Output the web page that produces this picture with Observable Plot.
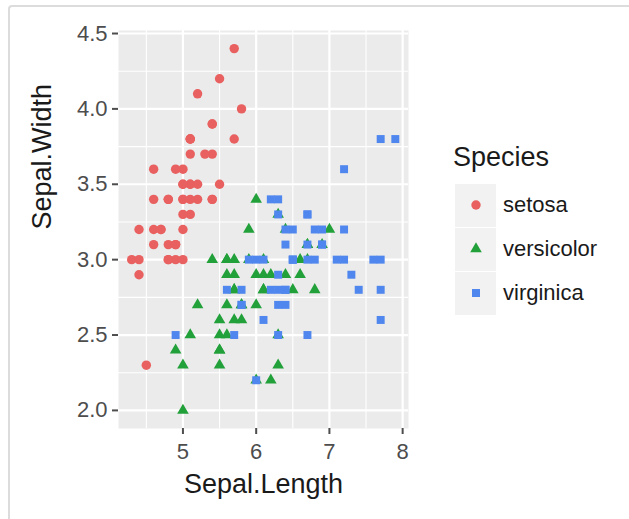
<!DOCTYPE html>
<html>
<head>
<meta charset="utf-8">
<script src="https://cdn.jsdelivr.net/npm/d3@7"></script>
<script src="https://cdn.jsdelivr.net/npm/@observablehq/plot@0.6"></script>
<style>
  html, body { margin: 0; padding: 0; background: #fff; }
  body { width: 629px; height: 519px; position: relative; overflow: hidden;
         font-family: "Liberation Sans", Arial, Helvetica, sans-serif; }
  #card { position: absolute; left: 8px; top: 5px; width: 700px; height: 600px;
          border-top: 2px solid #dcdcdc; border-left: 2px solid #dcdcdc;
          border-top-left-radius: 4px; box-sizing: border-box; }
  #chart { position: absolute; left: 0; top: 0; }
  #legend { position: absolute; left: 453px; top: 141px; }
  #legend .ltitle { font-size: 27px; line-height: 32px; height: 32px; color: #1a1a1a; margin-bottom: 10px; }
  #legend .row { display: flex; align-items: center; height: 44px; }
  #legend .key { width: 41px; height: 43px; background: #F2F2F2; border: 1px solid #fff;
                 box-sizing: content-box; margin-left: 1px; display: flex; align-items: center; justify-content: center; }
  #legend .lab { font-size: 22px; color: #1a1a1a; margin-left: 6px; }
</style>
</head>
<body>
<div id="card"></div>
<div id="chart"></div>
<div id="legend"></div>
<script>
// Edgar Anderson's iris measurements: sepal length and width per species
const speciesNames = ["setosa", "versicolor", "virginica"];
const speciesColors = ["#E8605F", "#22A03A", "#5087EE"];
const speciesSymbols = ["circle", "triangle", "square"];

const setosaLength = [5.1,4.9,4.7,4.6,5.0,5.4,4.6,5.0,4.4,4.9,5.4,4.8,4.8,4.3,5.8,5.7,5.4,5.1,5.7,5.1,5.4,5.1,4.6,5.1,4.8,5.0,5.0,5.2,5.2,4.7,4.8,5.4,5.2,5.5,4.9,5.0,5.5,4.9,4.4,5.1,5.0,4.5,4.4,5.0,5.1,4.8,5.1,4.6,5.3,5.0];
const setosaWidth  = [3.5,3.0,3.2,3.1,3.6,3.9,3.4,3.4,2.9,3.1,3.7,3.4,3.0,3.0,4.0,4.4,3.9,3.5,3.8,3.8,3.4,3.7,3.6,3.3,3.4,3.0,3.4,3.5,3.4,3.2,3.1,3.4,4.1,4.2,3.1,3.2,3.5,3.6,3.0,3.4,3.5,2.3,3.2,3.5,3.8,3.0,3.8,3.2,3.7,3.3];

const versicolorLength = [7.0,6.4,6.9,5.5,6.5,5.7,6.3,4.9,6.6,5.2,5.0,5.9,6.0,6.1,5.6,6.7,5.6,5.8,6.2,5.6,5.9,6.1,6.3,6.1,6.4,6.6,6.8,6.7,6.0,5.7,5.5,5.5,5.8,6.0,5.4,6.0,6.7,6.3,5.6,5.5,5.5,6.1,5.8,5.0,5.6,5.7,5.7,6.2,5.1,5.7];
const versicolorWidth  = [3.2,3.2,3.1,2.3,2.8,2.8,3.3,2.4,2.9,2.7,2.0,3.0,2.2,2.9,2.9,3.1,3.0,2.7,2.2,2.5,3.2,2.8,2.5,2.8,2.9,3.0,2.8,3.0,2.9,2.6,2.4,2.4,2.7,2.7,3.0,3.4,3.1,2.3,3.0,2.5,2.6,3.0,2.6,2.3,2.7,3.0,2.9,2.9,2.5,2.8];

const virginicaLength = [6.3,5.8,7.1,6.3,6.5,7.6,4.9,7.3,6.7,7.2,6.5,6.4,6.8,5.7,5.8,6.4,6.5,7.7,7.7,6.0,6.9,5.6,7.7,6.3,6.7,7.2,6.2,6.1,6.4,7.2,7.4,7.9,6.4,6.3,6.1,7.7,6.3,6.4,6.0,6.9,6.7,6.9,5.8,6.8,6.7,6.7,6.3,6.5,6.2,5.9];
const virginicaWidth  = [3.3,2.7,3.0,2.9,3.0,3.0,2.5,2.9,2.5,3.6,3.2,2.7,3.0,2.5,2.8,3.2,3.0,3.8,2.6,2.2,3.2,2.8,2.8,2.7,3.3,3.2,2.8,3.0,2.8,3.0,2.8,3.8,2.8,2.8,2.6,3.0,3.4,3.1,3.0,3.1,3.1,3.1,2.7,3.2,3.3,3.0,2.5,3.0,3.4,3.0];

// Axis breaks (major) and the minor lines halfway between them
const xTicks = [5, 6, 7, 8];
const xMinor = [4.5, 5.5, 6.5, 7.5];
const yTicks = [2.0, 2.5, 3.0, 3.5, 4.0, 4.5];
const yMinor = [2.25, 2.75, 3.25, 3.75, 4.25];

const lengths = [setosaLength, versicolorLength, virginicaLength];
const widths = [setosaWidth, versicolorWidth, virginicaWidth];
const flowers = speciesNames.flatMap((s, i) =>
  lengths[i].map((len, j) => ({species: s, length: len, width: widths[i][j]})));

// marker radius per symbol so the three shapes look about the same size
const symbolRadius = {circle: 4.7, triangle: 4.3, square: 4.5};

const speciesDots = speciesNames.map((s, i) =>
  Plot.dot(flowers.filter(d => d.species === s), {
    x: "length", y: "width",
    fill: speciesColors[i], stroke: null,
    symbol: speciesSymbols[i], r: symbolRadius[speciesSymbols[i]]
  }));

const chart = Plot.plot({
  width: 420,
  height: 519,
  marginLeft: 118,
  marginRight: 12,
  marginTop: 30,
  marginBottom: 91,
  x: {domain: [4.12, 8.08]},
  y: {domain: [1.88, 4.52]},
  style: {fontFamily: "'Liberation Sans', Arial, Helvetica, sans-serif", background: "transparent"},
  marks: [
    Plot.frame({fill: "#EBEBEB", stroke: null}),
    Plot.ruleX(xMinor, {stroke: "#fff", strokeWidth: 1.1}),
    Plot.ruleY(yMinor, {stroke: "#fff", strokeWidth: 1.1}),
    Plot.ruleX(xTicks, {stroke: "#fff", strokeWidth: 2.2}),
    Plot.ruleY(yTicks, {stroke: "#fff", strokeWidth: 2.2}),
    ...speciesDots,
    Plot.axisX({ticks: xTicks, tickSize: 6, tickPadding: 9, fontSize: 22, color: "#4D4D4D",
                strokeWidth: 2, label: null, tickFormat: d => String(d)}),
    Plot.axisY({ticks: yTicks, tickSize: 6, tickPadding: 5, fontSize: 22, color: "#4D4D4D",
                strokeWidth: 2, label: null, tickFormat: d3.format(".1f")}),
    Plot.text(["Sepal.Length"], {text: d => d, frameAnchor: "bottom", dy: 64, fontSize: 27, fill: "#1a1a1a"}),
    Plot.text(["Sepal.Width"], {text: d => d, frameAnchor: "left", dx: -76, rotate: -90, fontSize: 27, fill: "#1a1a1a"})
  ]
});
document.getElementById("chart").appendChild(chart);

// Legend: ggplot-style keys with the species' symbol and colour
const legend = d3.select("#legend");
legend.append("div").attr("class", "ltitle").text("Species");
speciesNames.forEach((s, i) => {
  const row = legend.append("div").attr("class", "row");
  const key = row.append("div").attr("class", "key");
  const svg = key.append("svg").attr("width", 20).attr("height", 20);
  const sym = {circle: d3.symbolCircle, triangle: d3.symbolTriangle, square: d3.symbolSquare}[speciesSymbols[i]];
  const r = symbolRadius[speciesSymbols[i]];
  svg.append("path")
    .attr("transform", "translate(10,10)")
    .attr("d", d3.symbol(sym, Math.PI * r * r)())
    .attr("fill", speciesColors[i]);
  row.append("span").attr("class", "lab").text(s);
});
</script>
</body>
</html>
